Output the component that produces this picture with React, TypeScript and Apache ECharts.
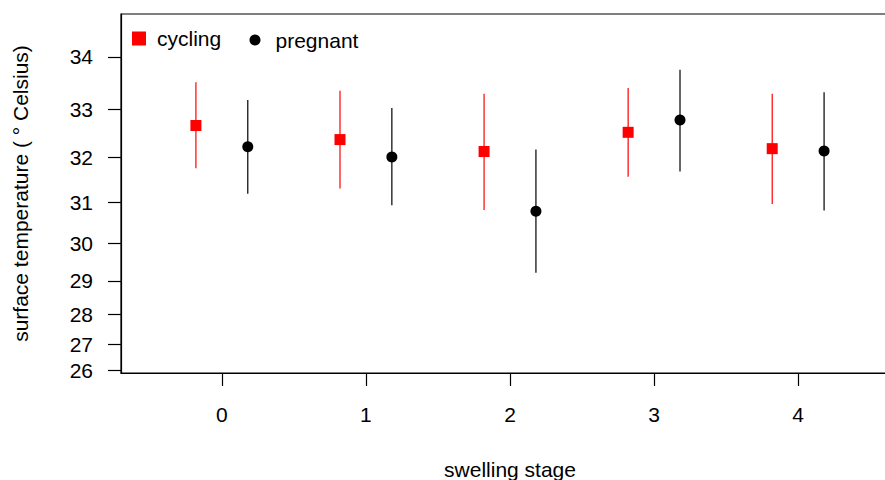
import React, { useEffect, useRef } from "react";
import * as echarts from "echarts";

const stages = [0, 1, 2, 3, 4];
const cyclingMean = [32.67, 32.38, 32.13, 32.53, 32.19];
const cyclingLow = [31.77, 31.32, 30.82, 31.58, 30.96];
const cyclingHigh = [33.52, 33.36, 33.3, 33.41, 33.3];
const pregnantMean = [32.23, 32.01, 30.79, 32.78, 32.14];
const pregnantLow = [31.2, 30.93, 29.22, 31.7, 30.81];
const pregnantHigh = [33.18, 33.02, 32.17, 33.76, 33.33];
const yTicks = [26, 27, 28, 29, 30, 31, 32, 33, 34];
const xTicks = [0, 1, 2, 3, 4];

const Y0 = 19.5;
const T = (v: number) => (v - Y0) * (v - Y0);
const Tinv = (t: number) => Y0 + Math.sqrt(t);

const FONT = "Liberation Sans, Arial, Helvetica, sans-serif";
const FS = 21;
const OFF = 0.18;

export default function App() {
  const ref = useRef<HTMLDivElement>(null);
  useEffect(() => {
    if (!ref.current) return;
    const chart = echarts.init(ref.current, undefined, { renderer: "svg" });
    const errItem = (color: string) => (params: any, api: any) => {
      const x = api.value(0);
      const p1 = api.coord([x, api.value(1)]);
      const p2 = api.coord([x, api.value(2)]);
      return {
        type: "line",
        shape: { x1: p1[0], y1: p1[1], x2: p2[0], y2: p2[1] },
        style: { stroke: color, lineWidth: 1.2 },
      };
    };
    chart.setOption({
      animation: false,
      backgroundColor: "#ffffff",
      textStyle: { fontFamily: FONT, color: "#000" },
      grid: {
        left: 121,
        top: 14,
        width: 778,
        height: 359,
        show: true,
        borderColor: "#000",
        borderWidth: 1.2,
        containLabel: false,
        outerBoundsMode: "none",
      },
      legend: [
        {
          data: ["cycling"],
          left: 132,
          top: 28,
          padding: 0,
          itemWidth: 14,
          itemHeight: 14,
          icon: "rect",
          textStyle: { fontSize: FS, fontFamily: FONT, color: "#000", padding: [0, 0, 0, 6] },
        },
        {
          data: ["pregnant"],
          left: 249.5,
          top: 29.5,
          padding: 0,
          itemWidth: 11,
          itemHeight: 11,
          icon: "circle",
          textStyle: { fontSize: FS, fontFamily: FONT, color: "#000", padding: [0, 0, 0, 10] },
        },
      ],
      xAxis: {
        type: "value",
        min: -0.7,
        max: 4.7,
        name: "swelling stage",
        nameLocation: "middle",
        nameGap: 86,
        nameTextStyle: { fontSize: FS, fontFamily: FONT, color: "#000" },
        splitLine: { show: false },
        axisLine: { show: true, onZero: false, lineStyle: { color: "#000", width: 1.2 } },
        axisTick: {
          show: true,
          length: 13,
          lineStyle: { color: "#000", width: 1.2 },
          customValues: xTicks,
        },
        axisLabel: {
          show: true,
          fontSize: FS,
          fontFamily: FONT,
          color: "#000",
          margin: 31,
          customValues: xTicks,
          formatter: (v: number) => String(Math.round(v)),
        },
      },
      yAxis: {
        type: "value",
        min: T(25.89),
        max: T(34.77),
        name: "surface temperature ( ° Celsius)",
        nameLocation: "middle",
        nameGap: 90,
        nameRotate: 90,
        nameTextStyle: { fontSize: FS, fontFamily: FONT, color: "#000" },
        splitLine: { show: false },
        axisLine: { show: true, onZero: false, lineStyle: { color: "#000", width: 1.2 } },
        axisTick: {
          show: true,
          length: 13,
          lineStyle: { color: "#000", width: 1.2 },
          customValues: yTicks.map(T),
        },
        axisLabel: {
          show: true,
          fontSize: FS,
          fontFamily: FONT,
          color: "#000",
          margin: 28,
          customValues: yTicks.map(T),
          formatter: (v: number) => String(Math.round(Tinv(v))),
        },
      },
      series: [
        {
          name: "cycling-err",
          type: "custom",
          renderItem: errItem("#ff0000"),
          data: stages.map((s, i) => [s - OFF, T(cyclingLow[i]), T(cyclingHigh[i])]),
          z: 1,
          silent: true,
        },
        {
          name: "pregnant-err",
          type: "custom",
          renderItem: errItem("#000000"),
          data: stages.map((s, i) => [s + OFF, T(pregnantLow[i]), T(pregnantHigh[i])]),
          z: 1,
          silent: true,
        },
        {
          name: "cycling",
          type: "scatter",
          symbol: "rect",
          symbolSize: 11,
          itemStyle: { color: "#ff0000", opacity: 1 },
          data: stages.map((s, i) => [s - OFF, T(cyclingMean[i])]),
          z: 3,
        },
        {
          name: "pregnant",
          type: "scatter",
          symbol: "circle",
          symbolSize: 11,
          itemStyle: { color: "#000000", opacity: 1 },
          data: stages.map((s, i) => [s + OFF, T(pregnantMean[i])]),
          z: 3,
        },
      ],
    });
    return () => chart.dispose();
  }, []);
  return (
    <div
      ref={ref}
      style={{ position: "absolute", left: 0, top: 0, width: 885, height: 480, background: "#fff" }}
    />
  );
}
